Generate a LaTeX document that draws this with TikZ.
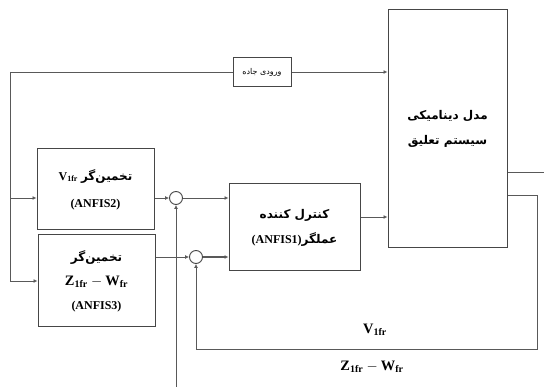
\documentclass[tikz,border=0pt]{standalone}
\usepackage{amsmath,amssymb}
\usepackage{fontspec}
\setmainfont{Liberation Serif}
\newfontfamily\fa[Script=Arabic]{DejaVu Sans}
\TeXXeTstate=1
\usepackage{tikz}
\usetikzlibrary{arrows.meta,positioning,calc}

\begin{document}
\begin{tikzpicture}[
  x=1pt,y=-1pt,
  block/.style={draw=gray!55!black, line width=1pt, align=center, inner sep=2pt, font=\large},
  sumpt/.style={draw=gray!55!black, line width=0.9pt, circle, minimum size=13pt, inner sep=0pt},
  lbl/.style={font=\Large\bfseries},
  ln/.style={draw=gray!70!black, line width=0.85pt},
  arr/.style={ln, -{Latex[length=4pt,width=4pt]}}
]
\useasboundingbox (0,0) rectangle (544,387);
\node[block, minimum width=58pt, minimum height=29pt, font=\footnotesize] (road) at (262,72) {\fa\beginR ورودی جاده\endR};
\node[block, minimum width=119pt, minimum height=238pt] (plant) at (447.5,129) {\fa\bfseries\beginR مدل دینامیکی\endR\\[11pt]\fa\bfseries\beginR سیستم تعلیق\endR};
\node[block, minimum width=117pt, minimum height=81pt] (est2) at (95.5,189.5) {$\mathbf{V_{1fr}}$ {\fa\bfseries\beginR تخمین‌گر\endR}\\[13pt]\textbf{(ANFIS2)}};
\node[block, minimum width=117pt, minimum height=92pt] (est3) at (96.5,281) {{\fa\bfseries\beginR تخمین‌گر\endR}\\[10pt]{\Large$\mathbf{Z_{1fr}-W_{fr}}$}\\[10pt]\textbf{(ANFIS3)}};
\node[block, minimum width=131pt, minimum height=87pt] (ctrl) at (294.5,227.5) {{\fa\bfseries\beginR کنترل کننده\endR}\\[11pt]\textbf{(ANFIS1)}{\fa\bfseries\beginR عملگر\endR}};
\node[sumpt] (sum1) at (176,198) {};
\node[sumpt] (sum2) at (196,257) {};
\node[lbl] (v1) at (375,330) {$\mathbf{V_{1fr}}$};
\node[lbl] (zw) at (372,367) {$\mathbf{Z_{1fr}-W_{fr}}$};
\coordinate (in) at (10,72);
\coordinate (r1) at (544,172);
\coordinate (b1) at (176,387);
\coordinate (fb) at (537,349);
% road input and estimators
\draw[ln] (in) -- (road.west);
\draw[arr] (road.east) -- (road.east -| plant.west);
\draw[arr] (in) |- (est3.west);
\draw[arr] (in |- sum1) -- (est2.west |- sum1);
\draw[arr] (est2.east |- sum1) -- (sum1.west);
\draw[arr] (est3.east |- sum2) -- (sum2.west);
\draw[arr] (sum1.east) -- (ctrl.west |- sum1);
\draw[arr, line width=1.2pt] (sum2.east) -- (ctrl.west |- sum2);
\draw[arr] ([yshift=10.5pt]ctrl.east) -- ([yshift=10.5pt]ctrl.east -| plant.west);
% feedback
\draw[ln] ([yshift=-43pt]plant.east) -- (r1);
\draw[arr] (b1) -- (sum1.south);
\draw[arr] ([yshift=-66pt]plant.east) -| (fb) -| (sum2.south);
\end{tikzpicture}
\end{document}
